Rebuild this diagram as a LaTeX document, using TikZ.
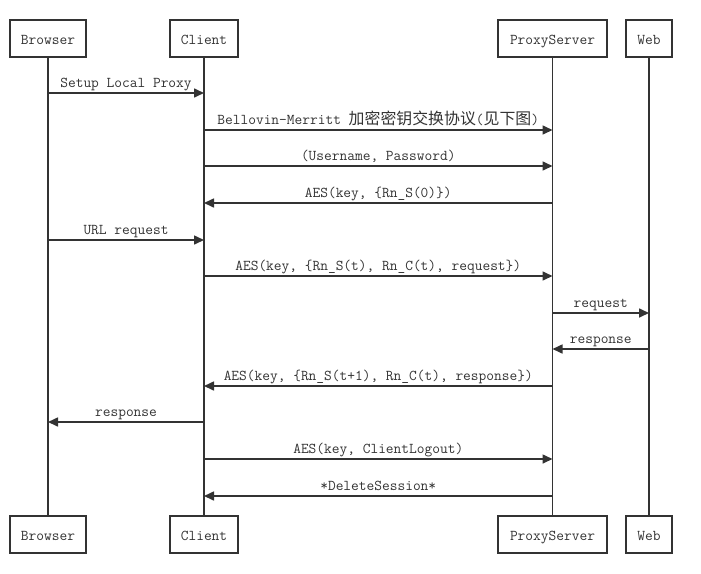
\documentclass[tikz,border=0pt]{standalone}
\usepackage{fontspec}
\setmonofont{Latin Modern Mono}
\newfontfamily\cjk{Noto Sans CJK SC}[Scale=1.06]
\usetikzlibrary{arrows.meta}
\definecolor{ln}{HTML}{333333}
\tikzset{
  actor/.style={draw=ln, line width=1.6pt, minimum height=37pt, inner sep=0pt, text height=11.5pt, text depth=0pt, font=\ttfamily\fontsize{15}{15}\selectfont, text=ln, anchor=center},
  life/.style={draw=ln, line width=1.6pt},
  msg/.style={draw=ln, line width=1.6pt, -{Triangle[length=10pt,width=9pt]}},
  lbl/.style={font=\ttfamily\fontsize{15}{15}\selectfont, text=ln, inner sep=0pt, anchor=base, yshift=6pt}
}
\begin{document}
\begin{tikzpicture}[x=1pt,y=-1pt]
\useasboundingbox (0,0) rectangle (701,573);
% top actors
\node[actor, minimum width=76pt] (bT) at (48,38.5) {Browser};
\node[actor, minimum width=68pt] (cT) at (204,38.5) {Client};
\node[actor, minimum width=109pt] (pT) at (552.5,38.5) {ProxyServer};
\node[actor, minimum width=46pt] (wT) at (649,38.5) {Web};
% bottom actors
\node[actor, minimum width=76pt] (bB) at (48,534.5) {Browser};
\node[actor, minimum width=68pt] (cB) at (204,534.5) {Client};
\node[actor, minimum width=109pt] (pB) at (552.5,534.5) {ProxyServer};
\node[actor, minimum width=46pt] (wB) at (649,534.5) {Web};
% lifelines
\draw[life] (bT.south) -- (bB.north);
\draw[life] (cT.south) -- (cB.north);
\draw[life] (pT.south) -- (pB.north);
\draw[life] (wT.south) -- (wB.north);
% message coordinates
\foreach \n/\y in {1/93,2/130,3/166,4/203,5/240,6/276,7/313,8/349,9/386,10/422,11/459,12/496}{
  \coordinate (b\n) at (48,\y);
  \coordinate (c\n) at (204,\y);
  \coordinate (p\n) at (552.5,\y);
  \coordinate (w\n) at (649,\y);
}
\draw[msg] (b1) -- node[lbl] (l1) {Setup Local Proxy} (c1);
\draw[msg] (c2) -- node[lbl] (l2) {Bellovin-Merritt {\cjk 加密密钥交换协议}({\cjk 见下图})} (p2);
\draw[msg] (c3) -- node[lbl] (l3) {(Username, Password)} (p3);
\draw[msg] (p4) -- node[lbl] (l4) {AES(key, \{Rn\_S(0)\})} (c4);
\draw[msg] (b5) -- node[lbl] (l5) {URL request} (c5);
\draw[msg] (c6) -- node[lbl] (l6) {AES(key, \{Rn\_S(t), Rn\_C(t), request\})} (p6);
\draw[msg] (p7) -- node[lbl] (l7) {request} (w7);
\draw[msg] (w8) -- node[lbl] (l8) {response} (p8);
\draw[msg] (p9) -- node[lbl] (l9) {AES(key, \{Rn\_S(t+1), Rn\_C(t), response\})} (c9);
\draw[msg] (c10) -- node[lbl] (l10) {response} (b10);
\draw[msg] (c11) -- node[lbl] (l11) {AES(key, ClientLogout)} (p11);
\draw[msg] (p12) -- node[lbl] (l12) {*DeleteSession*} (c12);
\end{tikzpicture}
\end{document}
